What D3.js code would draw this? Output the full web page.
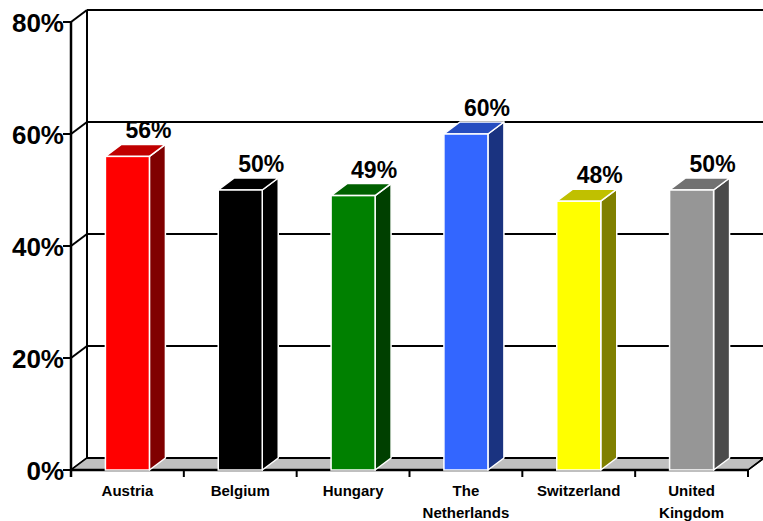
<!DOCTYPE html>
<html>
<head>
<meta charset="utf-8">
<script src="https://cdn.jsdelivr.net/npm/d3@7"></script>
<style>
  body { margin: 0; background: #fff; }
  svg { display: block; font-family: "Liberation Sans", Arial, sans-serif; font-weight: bold; }
</style>
</head>
<body>
<div id="chart"></div>
<script>
// data
var countries = ["Austria", "Belgium", "Hungary", "The Netherlands", "Switzerland", "United Kingdom"];
var labelLines = [["Austria"], ["Belgium"], ["Hungary"], ["The", "Netherlands"], ["Switzerland"], ["United", "Kingdom"]];
var shares = [56, 50, 49, 60, 48, 50];
var yTicks = [0, 20, 40, 60, 80];

// front / side / top colours per bar
var frontColors = ["#ff0000", "#000000", "#008000", "#3366ff", "#ffff00", "#969696"];
var sideColors  = ["#800000", "#000000", "#004000", "#1a3380", "#808000", "#4b4b4b"];
var topColors   = ["#c00000", "#000000", "#006000", "#264dc0", "#c0c000", "#717171"];

var width = 763, height = 521;
var dx = 16, dy = -12; // depth offset of the 3d box

var svg = d3.select("#chart").append("svg")
    .attr("width", width)
    .attr("height", height);

var x = d3.scaleBand()
    .domain(countries)
    .range([71, 748])
    .padding(0);

var y = d3.scaleLinear()
    .domain([0, 80])
    .range([470, 22]);

var barW = x.bandwidth() * 0.39;
var x0 = x.range()[0], x1 = x.range()[1];

// back wall gridlines
svg.append("g").selectAll("line.grid")
    .data(yTicks)
    .enter().append("line")
      .attr("x1", x0 + dx)
      .attr("x2", width)
      .attr("y1", function(d) { return y(d) + dy; })
      .attr("y2", function(d) { return y(d) + dy; })
      .style("stroke", "#000")
      .style("stroke-width", 2);

// side wall diagonals
svg.append("g").selectAll("line.diag")
    .data(yTicks)
    .enter().append("line")
      .attr("x1", x0)
      .attr("x2", x0 + dx)
      .attr("y1", function(d) { return y(d); })
      .attr("y2", function(d) { return y(d) + dy; })
      .style("stroke", "#000")
      .style("stroke-width", 2);

// back corner
svg.append("line")
    .attr("x1", x0 + dx).attr("x2", x0 + dx)
    .attr("y1", y(80) + dy).attr("y2", y(0) + dy)
    .style("stroke", "#000")
    .style("stroke-width", 2);

// floor
svg.append("path")
    .attr("d", "M" + x0 + "," + y(0) + "L" + x1 + "," + y(0) +
               "L" + (x1 + dx) + "," + (y(0) + dy) + "L" + (x0 + dx) + "," + (y(0) + dy) + "Z")
    .attr("fill", "#c0c0c0")
    .style("stroke", "#000")
    .style("stroke-width", 1.5);
svg.append("line")
    .attr("x1", x0 + dx).attr("x2", width)
    .attr("y1", y(0) + dy).attr("y2", y(0) + dy)
    .style("stroke", "#000")
    .style("stroke-width", 2);
svg.append("line")
    .attr("x1", x0).attr("x2", x1)
    .attr("y1", y(0)).attr("y2", y(0))
    .style("stroke", "#000")
    .style("stroke-width", 2.5);

// front value axis
svg.append("line")
    .attr("x1", x0).attr("x2", x0)
    .attr("y1", y(80)).attr("y2", y(0) + 7)
    .style("stroke", "#000")
    .style("stroke-width", 2.5);

svg.append("g").selectAll("line.ytick")
    .data(yTicks)
    .enter().append("line")
      .attr("x1", x0 - 8)
      .attr("x2", x0)
      .attr("y1", function(d) { return y(d); })
      .attr("y2", function(d) { return y(d); })
      .style("stroke", "#000")
      .style("stroke-width", 2);

svg.append("g").selectAll("text.ylab")
    .data(yTicks)
    .enter().append("text")
      .attr("x", x0 - 7)
      .attr("y", function(d) { return y(d) + 10; })
      .attr("text-anchor", "end")
      .style("font-size", "26px")
      .text(function(d) { return d + "%"; });

// category ticks on the floor edge
var catEdges = countries.map(function(c) { return x(c) + x.bandwidth(); });
svg.append("g").selectAll("line.xtick")
    .data(catEdges)
    .enter().append("line")
      .attr("x1", function(d) { return d; })
      .attr("x2", function(d) { return d; })
      .attr("y1", y(0))
      .attr("y2", y(0) + 7)
      .style("stroke", "#000")
      .style("stroke-width", 2);
svg.append("line")
    .attr("x1", x1).attr("x2", x1 + dx)
    .attr("y1", y(0)).attr("y2", y(0) + dy)
    .style("stroke", "#000")
    .style("stroke-width", 1.5);

// bars
var bars = svg.append("g").selectAll("g.bar")
    .data(shares)
    .enter().append("g")
      .attr("class", "bar");

function bx(d, i) { return x(countries[i]) + (x.bandwidth() - barW) / 2; }

bars.append("path") // side
    .attr("d", function(d, i) {
      var l = bx(d, i) + barW;
      return "M" + l + "," + y(0) + "L" + (l + dx) + "," + (y(0) + dy) +
             "L" + (l + dx) + "," + (y(d) + dy) + "L" + l + "," + y(d) + "Z";
    })
    .attr("fill", function(d, i) { return sideColors[i]; })
    .style("stroke", "#fff")
    .style("stroke-width", 1.5)
    .style("stroke-linejoin", "round");

bars.append("path") // top
    .attr("d", function(d, i) {
      var l = bx(d, i);
      return "M" + l + "," + y(d) + "L" + (l + barW) + "," + y(d) +
             "L" + (l + barW + dx) + "," + (y(d) + dy) + "L" + (l + dx) + "," + (y(d) + dy) + "Z";
    })
    .attr("fill", function(d, i) { return topColors[i]; })
    .style("stroke", "#fff")
    .style("stroke-width", 1.5)
    .style("stroke-linejoin", "round");

bars.append("rect") // front
    .attr("x", bx)
    .attr("y", function(d) { return y(d); })
    .attr("width", barW)
    .attr("height", function(d) { return y(0) - y(d); })
    .attr("fill", function(d, i) { return frontColors[i]; })
    .style("stroke", "#fff")
    .style("stroke-width", 1.5);

// value labels
bars.append("text")
    .attr("x", function(d, i) { return x(countries[i]) + x.bandwidth() / 2 + 21; })
    .attr("y", function(d) { return y(d) - 18; })
    .attr("text-anchor", "middle")
    .style("font-size", "23px")
    .text(function(d) { return d + "%"; });

// category labels
svg.append("g").selectAll("text.cat")
    .data(labelLines)
    .enter().append("text")
      .attr("text-anchor", "middle")
      .style("font-size", "15px")
      .each(function(lines, i) {
        var t = d3.select(this);
        lines.forEach(function(s, j) {
          t.append("tspan")
            .attr("x", x(countries[i]) + x.bandwidth() / 2)
            .attr("y", 496 + j * 22)
            .text(s);
        });
      });
</script>
</body>
</html>
